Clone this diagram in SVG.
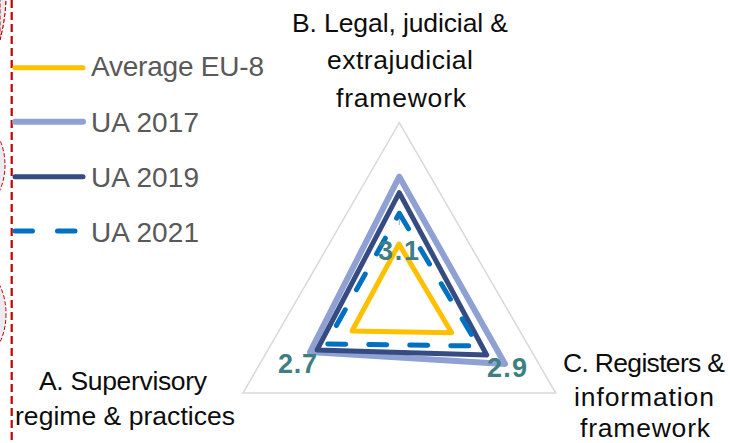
<svg xmlns="http://www.w3.org/2000/svg" width="730" height="443" viewBox="0 0 730 443">
<style>
.lbl{font-family:"Liberation Sans",Arial,sans-serif;font-size:26.5px;fill:#0d0d0d;text-anchor:middle}
.leg{font-family:"Liberation Sans",Arial,sans-serif;font-size:28px;fill:#595959}
.val{font-family:"Liberation Sans",Arial,sans-serif;font-size:27px;font-weight:bold;fill:#3f7f83;text-anchor:middle}
.ser{fill:none;stroke-linejoin:round;stroke-linecap:round}
.s0{stroke:#FFC000;stroke-width:5}
.s1{stroke:#8FA1D3;stroke-width:6}
.s2{stroke:#354B82;stroke-width:5}
.s3{stroke:#0070C0;stroke-width:5;stroke-dasharray:18 23}
.mark{fill:#ECEAEE;stroke:#C00000;stroke-width:1;stroke-dasharray:4 2}
</style>
<rect width="730" height="443" fill="#ffffff"/>
<g id="annotations">
  <path class="mark" d="M0,-5 L6,-5 C6,12 3,28 0,40 Z" stroke="none"/>
  <path class="mark" d="M6,-5 C6,12 3,28 0,40" fill="none"/>
  <ellipse class="mark" cx="-21" cy="165" rx="26" ry="42"/>
  <ellipse class="mark" cx="-20" cy="314" rx="26" ry="44" fill="none"/>
  <line x1="11.7" y1="0" x2="11.7" y2="443" stroke="#C00000" stroke-width="2.2" stroke-dasharray="8 4"/>
</g>
<g id="connectors">
  <polygon id="grid" points="399.3,122.7 555.7,393 243,393" fill="none" stroke="#D9D9D9" stroke-width="1.5"/>
  <line x1="399.3" y1="215" x2="399.3" y2="225" stroke="#A6A6A6" stroke-width="1"/>
</g>
<g id="series">
  <polygon id="ua2017" class="ser s1" points="399.3,176.7 505,364 310,352"/>
  <polygon id="ua2019" class="ser s2" points="399.3,192.7 486.7,355 317,350"/>
  <polygon id="ua2021" class="ser s3" points="399.3,213.3 478.3,346 326,344"/>
  <polygon id="eu8" class="ser s0" points="399,244 451.7,332.7 352,331"/>
</g>
<g id="values">
  <text class="val" x="398.5" y="259.5" textLength="41">3.1</text>
  <text class="val" x="297.5" y="373" textLength="39">2.7</text>
  <text class="val" x="507" y="377" textLength="40">2.9</text>
</g>
<g id="axisB">
  <text class="lbl" x="400" y="31.5" textLength="216">B. Legal, judicial &amp;</text>
  <text class="lbl" x="400" y="69" textLength="146">extrajudicial</text>
  <text class="lbl" x="401" y="106.5" textLength="130">framework</text>
</g>
<g id="axisC">
  <text class="lbl" x="644" y="372" textLength="162">C. Registers &amp;</text>
  <text class="lbl" x="644" y="406" textLength="140">information</text>
  <text class="lbl" x="645" y="437" textLength="130">framework</text>
</g>
<g id="axisA">
  <text class="lbl" x="123" y="390" textLength="168">A. Supervisory</text>
  <text class="lbl" x="125" y="425" textLength="220">regime &amp; practices</text>
</g>
<g id="legend">
  <g id="leg-eu8">
    <line class="ser s0" x1="15" y1="67.7" x2="83" y2="67.7"/>
    <text class="leg" x="91" y="76" textLength="173">Average EU-8</text>
  </g>
  <g id="leg-ua2017">
    <line class="ser s1" x1="15" y1="121.7" x2="83" y2="121.7"/>
    <text class="leg" x="91" y="131.5" textLength="108">UA 2017</text>
  </g>
  <g id="leg-ua2019">
    <line class="ser s2" x1="15" y1="176.7" x2="83" y2="176.7"/>
    <text class="leg" x="91" y="186.5" textLength="108">UA 2019</text>
  </g>
  <g id="leg-ua2021">
    <line class="ser s0" x1="15" y1="231" x2="83" y2="231" style="stroke:#0070C0;stroke-dasharray:17.5 25"/>
    <text class="leg" x="91" y="241.5" textLength="108">UA 2021</text>
  </g>
</g>
</svg>
